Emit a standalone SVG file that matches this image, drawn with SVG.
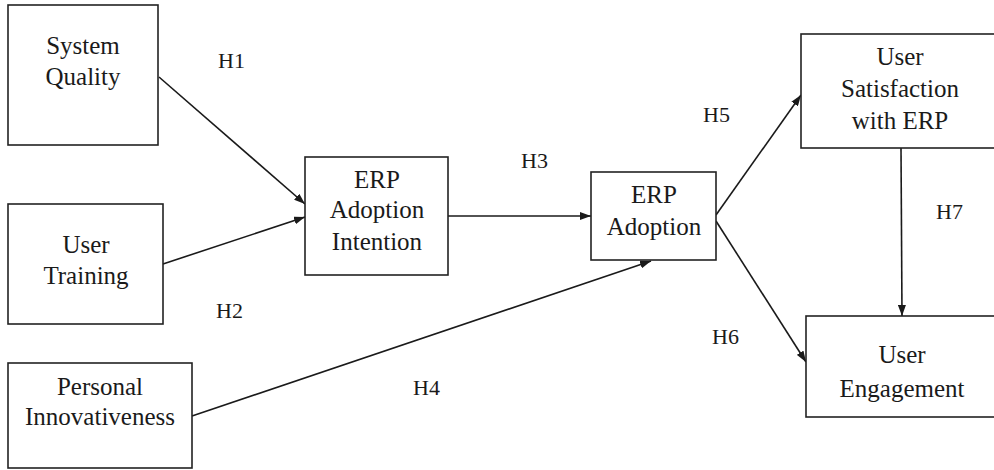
<svg xmlns="http://www.w3.org/2000/svg" width="994" height="470" viewBox="0 0 994 470" font-family="Liberation Serif, DejaVu Serif, serif">
<style>
  .box { fill: #fff; stroke: #222; stroke-width: 1.6; }
  .t { font-size: 25px; text-anchor: middle; fill: #1a1a1a; }
  .h { font-size: 22px; fill: #1a1a1a; }
  .c { stroke: #1a1a1a; stroke-width: 1.6; fill: none; marker-end: url(#ah); }
</style>
<defs>
  <marker id="ah" markerUnits="userSpaceOnUse" markerWidth="12" markerHeight="8" refX="11" refY="4" orient="auto">
    <path d="M0,0 L11,4 L0,8 z" fill="#1a1a1a"/>
  </marker>
</defs>
<rect width="994" height="470" fill="#fff"/>
<g id="connectors">
  <line class="c" x1="159" y1="77" x2="305" y2="204"/>
  <line class="c" x1="163" y1="264" x2="305" y2="217"/>
  <line class="c" x1="448" y1="216" x2="591" y2="216"/>
  <line class="c" x1="192" y1="416" x2="651" y2="261"/>
  <line class="c" x1="716" y1="215" x2="801" y2="95"/>
  <line class="c" x1="716" y1="221" x2="806" y2="362"/>
  <line class="c" x1="901" y1="148" x2="902" y2="316"/>
</g>
<g id="labels">
  <text class="h" x="218" y="68">H1</text>
  <text class="h" x="216" y="318">H2</text>
  <text class="h" x="521" y="168">H3</text>
  <text class="h" x="413" y="395">H4</text>
  <text class="h" x="703" y="122">H5</text>
  <text class="h" x="712" y="344">H6</text>
  <text class="h" x="936" y="219">H7</text>
</g>
<g id="system-quality">
  <rect class="box" x="8" y="5" width="150" height="140"/>
  <text class="t" x="83" y="54">System</text>
  <text class="t" x="83" y="85">Quality</text>
</g>
<g id="user-training">
  <rect class="box" x="8" y="204" width="155" height="120"/>
  <text class="t" x="86" y="253">User</text>
  <text class="t" x="86" y="284">Training</text>
</g>
<g id="personal-innovativeness">
  <rect class="box" x="8" y="363" width="184" height="105"/>
  <text class="t" x="100" y="395">Personal</text>
  <text class="t" x="100" y="425">Innovativeness</text>
</g>
<g id="erp-adoption-intention">
  <rect class="box" x="305" y="157" width="143" height="118"/>
  <text class="t" x="377" y="188">ERP</text>
  <text class="t" x="377" y="218">Adoption</text>
  <text class="t" x="377" y="250">Intention</text>
</g>
<g id="erp-adoption">
  <rect class="box" x="591" y="172" width="125" height="88"/>
  <text class="t" x="654" y="203">ERP</text>
  <text class="t" x="654" y="235">Adoption</text>
</g>
<g id="user-satisfaction">
  <rect class="box" x="801" y="34" width="200" height="114"/>
  <text class="t" x="900" y="65">User</text>
  <text class="t" x="900" y="97">Satisfaction</text>
  <text class="t" x="900" y="129">with ERP</text>
</g>
<g id="user-engagement">
  <rect class="box" x="806" y="316" width="200" height="101"/>
  <text class="t" x="902" y="363">User</text>
  <text class="t" x="902" y="397">Engagement</text>
</g>
</svg>
